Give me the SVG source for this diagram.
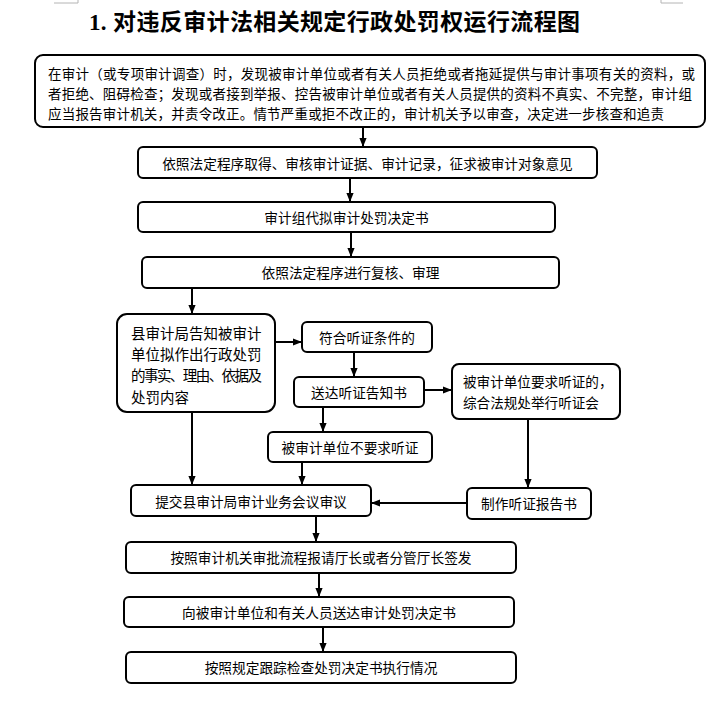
<svg xmlns="http://www.w3.org/2000/svg" width="725" height="717" viewBox="0 0 725 717">
<style>
.box{fill:#fff;stroke:#000;stroke-width:2}
.t{font-family:"Noto Sans CJK SC","Liberation Sans",sans-serif;font-size:13.7px;fill:#000}
.c{text-anchor:middle}
.ln{stroke:#000;stroke-width:2;fill:none}
.mk{stroke:#b4b4b4;stroke-width:1;fill:none}
.title{font-family:"Liberation Serif","Noto Sans CJK SC",serif;font-size:23px;font-weight:bold;fill:#000}
</style>
<defs>
<marker id="ah" viewBox="0 0 10 8" refX="10" refY="4" markerWidth="9" markerHeight="7.5" orient="auto" markerUnits="userSpaceOnUse">
<path d="M0,0 L10,4 L0,8 z" fill="#000"/>
</marker>
</defs>
<rect width="725" height="717" fill="#fff"/>
<g id="page-marks">
<path class="mk" d="M54,3 H78 V0"/>
<path class="mk" d="M661,0 V3 H683"/>
</g>
<g id="title">
<text class="title" x="89" y="29.5" textLength="491" lengthAdjust="spacing">1. 对违反审计法相关规定行政处罚权运行流程图</text>
</g>
<g id="connectors">
<line class="ln" x1="363" y1="127" x2="363" y2="147" marker-end="url(#ah)"/>
<line class="ln" x1="350" y1="178" x2="350" y2="202" marker-end="url(#ah)"/>
<line class="ln" x1="351" y1="232" x2="351" y2="257" marker-end="url(#ah)"/>
<line class="ln" x1="192" y1="288" x2="192" y2="314" marker-end="url(#ah)"/>
<line class="ln" x1="275" y1="342" x2="302" y2="342" marker-end="url(#ah)"/>
<line class="ln" x1="354" y1="352" x2="354" y2="377" marker-end="url(#ah)"/>
<line class="ln" x1="424" y1="390" x2="452" y2="390" marker-end="url(#ah)"/>
<line class="ln" x1="323" y1="407" x2="323" y2="432" marker-end="url(#ah)"/>
<line class="ln" x1="302" y1="462" x2="302" y2="485" marker-end="url(#ah)"/>
<line class="ln" x1="192" y1="412" x2="192" y2="485" marker-end="url(#ah)"/>
<line class="ln" x1="528" y1="419" x2="528" y2="488" marker-end="url(#ah)"/>
<line class="ln" x1="467" y1="503" x2="371" y2="503" marker-end="url(#ah)"/>
<line class="ln" x1="316" y1="516" x2="316" y2="542" marker-end="url(#ah)"/>
<line class="ln" x1="319" y1="573" x2="319" y2="597" marker-end="url(#ah)"/>
<line class="ln" x1="323" y1="627" x2="323" y2="652" marker-end="url(#ah)"/>
</g>
<g id="n1">
<rect class="box" x="35" y="55" width="670" height="72" rx="8"/>
<text class="t" x="48" y="79.3" style="font-size:13.5px" textLength="647" lengthAdjust="spacing">在审计（或专项审计调查）时，发现被审计单位或者有关人员拒绝或者拖延提供与审计事项有关的资料，或</text>
<text class="t" x="48" y="98.9" style="font-size:13.5px" textLength="644" lengthAdjust="spacing">者拒绝、阻碍检查；发现或者接到举报、控告被审计单位或者有关人员提供的资料不真实、不完整，审计组</text>
<text class="t" x="48" y="118.5" style="font-size:13.5px" textLength="616" lengthAdjust="spacing">应当报告审计机关，并责令改正。情节严重或拒不改正的，审计机关予以审查，决定进一步核查和追责</text>
</g>
<g id="n2">
<rect class="box" x="138" y="147" width="459" height="31" rx="5"/>
<text class="t c" x="367.5" y="168.5">依照法定程序取得、审核审计证据、审计记录，征求被审计对象意见</text>
</g>
<g id="n3">
<rect class="box" x="138" y="202" width="417" height="30" rx="5"/>
<text class="t c" x="346.5" y="223">审计组代拟审计处罚决定书</text>
</g>
<g id="n4">
<rect class="box" x="142" y="257" width="417" height="31" rx="5"/>
<text class="t c" x="350.5" y="278">依照法定程序进行复核、审理</text>
</g>
<g id="n5">
<rect class="box" x="117" y="314" width="158" height="98" rx="10"/>
<text class="t" x="131" y="338.5" style="font-size:14.5px">县审计局告知被审计</text>
<text class="t" x="131" y="359.5" style="font-size:14.5px">单位拟作出行政处罚</text>
<text class="t" x="131" y="381" style="font-size:14.5px" textLength="131" lengthAdjust="spacing">的事实、理由、依据及</text>
<text class="t" x="131" y="402.5" style="font-size:14.5px">处罚内容</text>
</g>
<g id="n6">
<rect class="box" x="302" y="322" width="130" height="30" rx="5"/>
<text class="t c" x="367" y="342.5">符合听证条件的</text>
</g>
<g id="n7">
<rect class="box" x="294" y="377" width="130" height="30" rx="5"/>
<text class="t c" x="359" y="397.5">送达听证告知书</text>
</g>
<g id="n8">
<rect class="box" x="452" y="364" width="168" height="55" rx="7"/>
<text class="t" x="463" y="387" style="font-size:13.6px">被审计单位要求听证的，</text>
<text class="t" x="463" y="407.5" style="font-size:13.6px">综合法规处举行听证会</text>
</g>
<g id="n9">
<rect class="box" x="268" y="432" width="164" height="30" rx="5"/>
<text class="t c" x="350" y="452.5">被审计单位不要求听证</text>
</g>
<g id="n10">
<rect class="box" x="131" y="485" width="240" height="31" rx="5"/>
<text class="t c" x="251" y="506.5">提交县审计局审计业务会议审议</text>
</g>
<g id="n11">
<rect class="box" x="467" y="488" width="124" height="31" rx="5"/>
<text class="t c" x="529" y="509">制作听证报告书</text>
</g>
<g id="n12">
<rect class="box" x="126" y="542" width="390" height="31" rx="5"/>
<text class="t c" x="321" y="563">按照审计机关审批流程报请厅长或者分管厅长签发</text>
</g>
<g id="n13">
<rect class="box" x="124" y="597" width="390" height="30" rx="5"/>
<text class="t c" x="319" y="617.5">向被审计单位和有关人员送达审计处罚决定书</text>
</g>
<g id="n14">
<rect class="box" x="126" y="652" width="390" height="31" rx="5"/>
<text class="t c" x="321" y="672.5">按照规定跟踪检查处罚决定书执行情况</text>
</g>
</svg>
